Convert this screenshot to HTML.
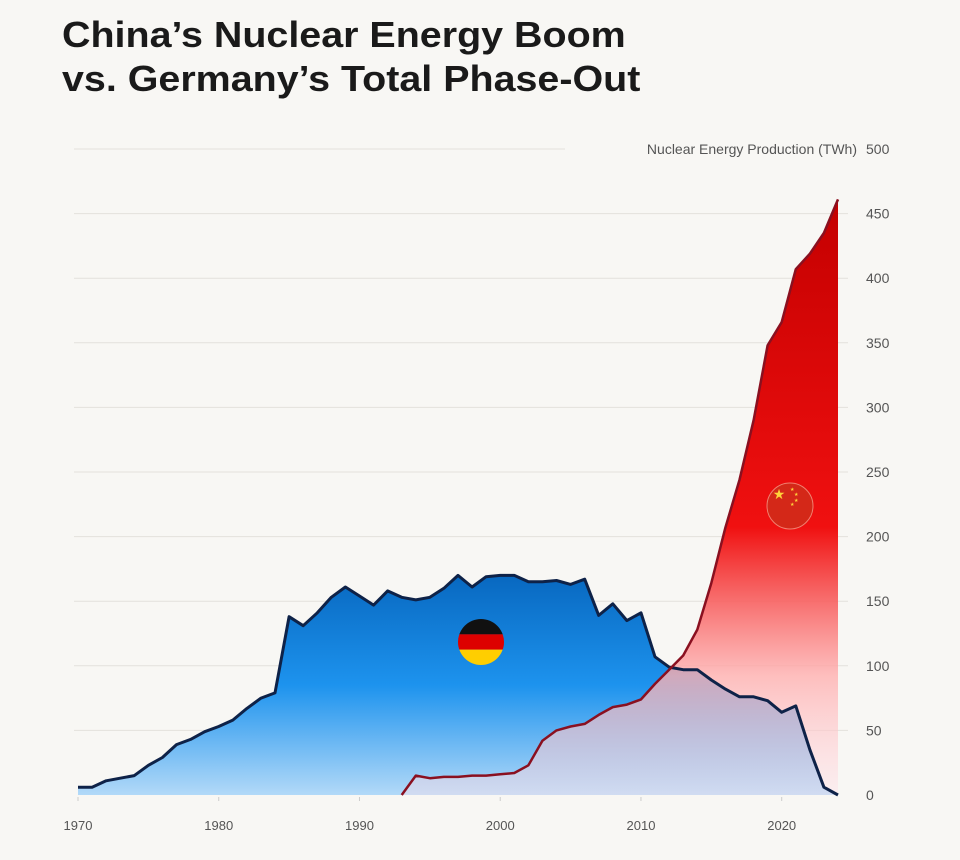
<!DOCTYPE html>
<html><head><meta charset="utf-8">
<style>
html,body{margin:0;padding:0;background:#f8f7f4;}
body{width:960px;height:860px;overflow:hidden;position:relative;font-family:"Liberation Sans",sans-serif;}
h1{position:absolute;left:62px;top:13px;margin:0;font-size:36px;line-height:44px;font-weight:bold;color:#1a1a1a;transform:scaleX(1.095);transform-origin:0 0;white-space:nowrap;}
</style></head>
<body>
<h1>China’s Nuclear Energy Boom<br>vs. Germany’s Total Phase-Out</h1>
<svg id="chart" width="960" height="860" style="position:absolute;left:0;top:0">
<defs>
<linearGradient id="gblue" x1="0" y1="0" x2="0" y2="1"><stop offset="0" stop-color="#0868c0"/><stop offset="0.5" stop-color="#1d93ee"/><stop offset="1" stop-color="#b2d9f8"/></linearGradient>
<linearGradient id="gred" gradientUnits="userSpaceOnUse" x1="0" y1="199" x2="0" y2="795"><stop offset="0" stop-color="#c40000" stop-opacity="1"/><stop offset="0.55" stop-color="#f01010" stop-opacity="1"/><stop offset="0.8" stop-color="#ffb0b0" stop-opacity="0.8"/><stop offset="1" stop-color="#ffe0e8" stop-opacity="0.4"/></linearGradient>
</defs>
</svg>
<script>
const years=[];for(let y=1970;y<=2024;y++)years.push(y);
const germany=[6,6,11,13,15,23,29,39,43,49,53,58,67,75,79,138,131,141,153,161,154,147,158,153,151,153,160,170,161,169,170,170,165,165,166,163,167,139,148,135,141,107,99,97,97,89,82,76,76,73,64,69,35,6,0];
const chinaYears=[1993,1994,1995,1996,1997,1998,1999,2000,2001,2002,2003,2004,2005,2006,2007,2008,2009,2010,2011,2012,2013,2014,2015,2016,2017,2018,2019,2020,2021,2022,2023,2024];
const china=[0,15,13,14,14,15,15,16,17,23,42,50,53,55,62,68,70,74,86,97,108,128,164,207,244,290,348,366,407,419,435,461];
const yTicks=[0,50,100,150,200,250,300,350,400,450,500];
const xTicks=[1970,1980,1990,2000,2010,2020];
const X=y=>78+(y-1970)*(760/54);
const Y=v=>795-v*(646/500);
const svg=document.getElementById('chart');const NS='http://www.w3.org/2000/svg';
function mk(t,a){const e=document.createElementNS(NS,t);for(const k in a)e.setAttribute(k,a[k]);svg.appendChild(e);return e;}
yTicks.forEach(v=>{
 if(v>0){const l=mk('line',{x1:74,x2:v===500?565:848,y1:Y(v),y2:Y(v),stroke:'#e3e1dc','stroke-width':1});
 
 }
 const t=mk('text',{x:866,y:Y(v)+5,'font-size':14,fill:'#555'});t.textContent=v;
 
 
});
const at=mk('text',{x:857,y:Y(500)+5,'text-anchor':'end','font-size':14,fill:'#555'});at.textContent='Nuclear Energy Production (TWh)';


xTicks.forEach(y=>{const t=mk('text',{x:X(y),y:830,'text-anchor':'middle','font-size':13,fill:'#555'});t.textContent=y;
 
 
 const tk=mk('line',{x1:X(y),x2:X(y),y1:797,y2:801,stroke:'#ccc'});
 
 });
const gpts=years.map((y,i)=>X(y).toFixed(1)+','+Y(germany[i]).toFixed(1)).join(' L');
const ga=mk('path',{d:'M'+X(1970)+','+Y(0)+' L'+gpts+' L'+X(2024)+','+Y(0)+'Z',fill:'url(#gblue)'});


const cpts=chinaYears.map((y,i)=>X(y).toFixed(1)+','+Y(china[i]).toFixed(1)).join(' L');
const ca=mk('path',{d:'M'+X(1993)+','+Y(0)+' L'+cpts+' L'+X(2024)+','+Y(0)+'Z',fill:'url(#gred)'});


const gl=mk('path',{d:'M'+gpts,fill:'none',stroke:'#0e2248','stroke-width':3,'stroke-linejoin':'round'});


const cl=mk('path',{d:'M'+cpts,fill:'none',stroke:'#8a1020','stroke-width':2.5,'stroke-linejoin':'round'});


const cp=mk('clipPath',{id:'cpg'});const cc=document.createElementNS(NS,'circle');cc.setAttribute('cx',481);cc.setAttribute('cy',642);cc.setAttribute('r',23);cp.appendChild(cc);
[['#111',619],['#dd0000',634.3],['#ffce00',649.6]].forEach(([c,y])=>{const r=mk('rect',{x:458,y:y,width:46,height:15.4,fill:c,'clip-path':'url(#cpg)'});});
const cf=mk('circle',{cx:790,cy:506,r:23,fill:'#d42818',stroke:'#f08070','stroke-width':1});


const st=mk('text',{x:779,y:499,'font-size':14,fill:'#ffd23a','text-anchor':'middle'});st.textContent='★';


[[790,491],[794,496],[794,502],[790,506]].forEach(([x,y])=>{const s=mk('text',{x:x,y:y,'font-size':5,fill:'#ffd23a'});s.textContent='★';
 
 });
</script>
</body></html>
